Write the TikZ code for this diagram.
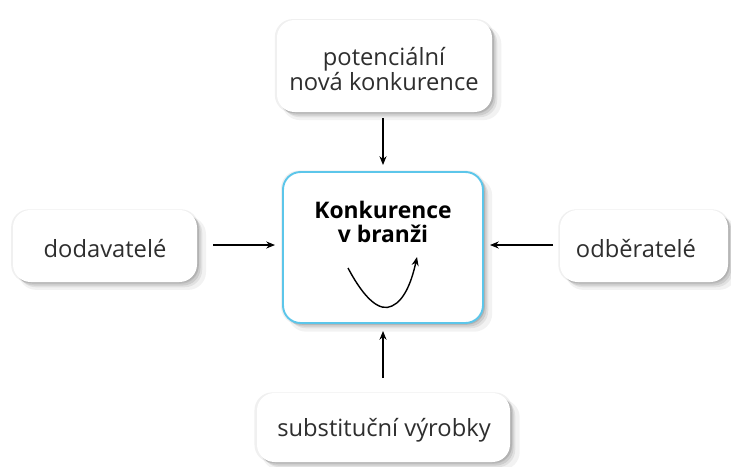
\documentclass[tikz,border=0pt]{standalone}
\usepackage{fontspec}
\setmainfont{Open Sans}
\usetikzlibrary{arrows.meta,shadows}
\definecolor{txt}{HTML}{2E2E2E}
\definecolor{rim}{HTML}{5CC6EA}
\tikzset{
  softshadow/.style={
    drop shadow={shadow xshift=4pt,shadow yshift=-4pt,opacity=.05,fill=black,shadow scale=1.02},
    drop shadow={shadow xshift=3pt,shadow yshift=-3pt,opacity=.07,fill=black},
    drop shadow={shadow xshift=2pt,shadow yshift=-2pt,opacity=.09,fill=black},
    drop shadow={shadow xshift=1pt,shadow yshift=-1pt,opacity=.08,fill=black},
    drop shadow={shadow xshift=0pt,shadow yshift=0pt,opacity=.06,fill=black,shadow scale=1.02}},
  force/.style={draw=none,fill=white,rounded corners=10pt,softshadow},
  label/.style={text=txt,font=\fontsize{13.5}{14.5}\selectfont,align=center,inner sep=0pt},
  core/.style={draw=rim,line width=1.1pt,fill=white,rounded corners=10pt,softshadow},
  push/.style={-{Stealth[length=5pt,width=4pt]},line width=0.6pt,draw=black}
}
\begin{document}
\begin{tikzpicture}[x=0.02cm,y=-0.02cm]
\useasboundingbox (0,0) rectangle (731,467);
% outer forces
\path[force] (277,20) rectangle (492,112);
\node[label] (top) at (384,69) {potenciální\\nová konkurence};
\path[force] (13,210) rectangle (197,282);
\node[label] (left) at (105,249) {dodavatelé};
\path[force] (560,210) rectangle (728,282);
\node[label] (right) at (636,249) {odběratelé};
\path[force] (257,393) rectangle (510,462);
\node[label] (bottom) at (384,430) {substituční výrobky};
% centre box
\path[core] (283,172) rectangle (483,323);
\node[font=\bfseries\fontsize{13}{14}\selectfont,align=center,text=black,inner sep=0pt] (centre) at (383,222) {Konkurence\\v branži};
% U-shaped curve with arrow
\coordinate (u0) at (348,268);
\coordinate (u1) at (417,257);
\draw[-{Stealth[length=5pt,width=4pt]},line width=0.8pt] (u0) .. controls (365,300) and (380,312) .. (392,306) .. controls (405,300) and (412,280) .. (u1);
% arrows into the centre
\coordinate (ta) at (383,118); \coordinate (tb) at (383,165);
\coordinate (la) at (213,245); \coordinate (lb) at (275,245);
\coordinate (ra) at (553,245); \coordinate (rb) at (490,245);
\coordinate (ba) at (383,378); \coordinate (bb) at (383,331);
\draw[push] (ta) -- (tb);
\draw[push] (la) -- (lb);
\draw[push] (ra) -- (rb);
\draw[push] (ba) -- (bb);
\end{tikzpicture}
\end{document}
